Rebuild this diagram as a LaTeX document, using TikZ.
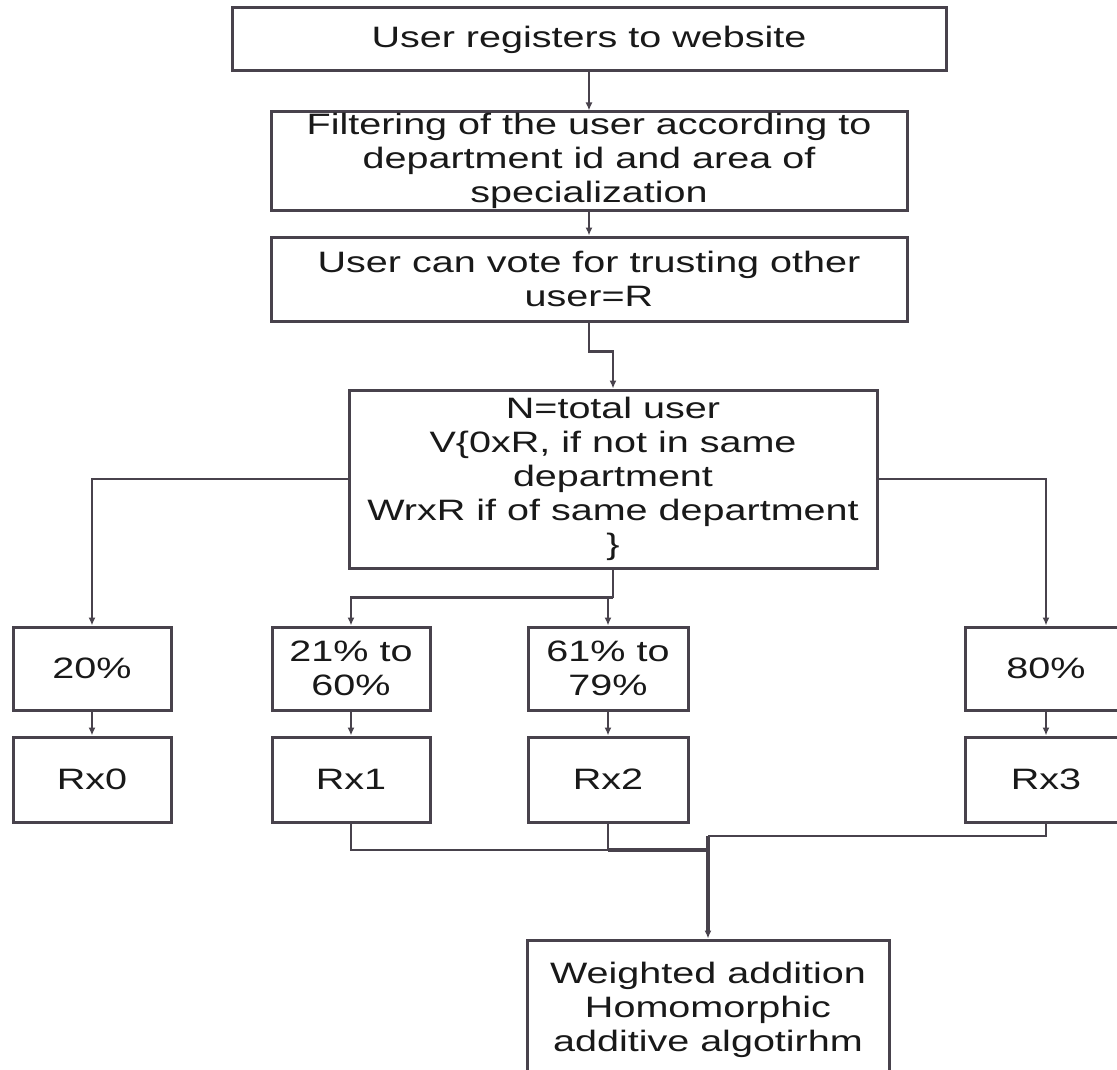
\documentclass[tikz,border=0pt]{standalone}
\usepackage{fontspec}
\setmainfont{Liberation Sans}[FakeStretch=1.34]
\usetikzlibrary{arrows.meta}
\definecolor{ln}{RGB}{72,66,76}
\definecolor{tx}{RGB}{25,25,25}
\begin{document}
\begin{tikzpicture}[x=1pt,y=-1pt,
  box/.style={draw=ln,line width=3pt,fill=white,inner sep=0pt,align=center,text=tx,font=\fontsize{29.5}{34}\selectfont},
  conn/.style={draw=ln,line width=2.4pt},
  arr/.style={conn,-{Latex[length=8pt,width=7pt]}},
  thk/.style={line width=3.4pt}
]
\fill[white] (0,0) rectangle (1117,1070);
\useasboundingbox (0,0) rectangle (1117,1070);

\node[box,minimum width=714pt,minimum height=63pt] (b1) at (589,39.5) {User registers to website};
\node[box,minimum width=636pt,minimum height=98pt] (b2) at (589,161) {Filtering of the user according to\\department id and area of\\specialization};
\node[box,minimum width=636pt,minimum height=84pt] (b3) at (589,279) {User can vote for trusting other\\user=R};
\node[box,minimum width=528pt,minimum height=178pt] (b4) at (613,479) {\rule{0pt}{6pt}N=total user\\V\{0xR, if not in same\\department\\WrxR if of same department\\\}};

\node[box,minimum width=158pt,minimum height=83pt] (p0) at (92,668.5) {20\%};
\node[box,minimum width=158pt,minimum height=83pt] (p1) at (351,668.5) {21\% to\\60\%};
\node[box,minimum width=160pt,minimum height=83pt] (p2) at (608,668.5) {61\% to\\79\%};
\node[box,minimum width=162pt,minimum height=83pt] (p3) at (1046,668.5) {80\%};

\node[box,minimum width=158pt,minimum height=85pt] (r0) at (92,779.5) {Rx0};
\node[box,minimum width=158pt,minimum height=85pt] (r1) at (351,779.5) {Rx1};
\node[box,minimum width=160pt,minimum height=85pt] (r2) at (608,779.5) {Rx2};
\node[box,minimum width=162pt,minimum height=85pt] (r3) at (1046,779.5) {Rx3};

\node[box,minimum width=362pt,minimum height=140pt] (w) at (708,1010) {Weighted addition\\Homomorphic\\additive algotirhm};

\draw[arr] (b1.south) -- (b2.north);
\draw[arr] (b2.south) -- (b3.north);
\draw[arr] (b3.south) -- ++(0,29) -| (b4.north);
\draw[arr] (b4.west) -| (p0.north);
\draw[arr] (b4.east) -| (p3.north);
\draw[conn] (b4.south) -- ++(0,28) coordinate (j1);
\draw[arr] (j1) -| (p1.north);
\draw[arr] (j1 -| p2.north) -- (p2.north);

\draw[arr] (p0.south) -- (r0.north);
\draw[arr] (p1.south) -- (r1.north);
\draw[arr] (p2.south) -- (r2.north);
\draw[arr] (p3.south) -- (r3.north);

\coordinate (j2) at (708,850);
\coordinate (j3) at (708,836);
\draw[conn] (r1.south) |- (j2);
\draw[conn] (r2.south) -- (r2.south |- j2);
\draw[conn,thk] (r2.south |- j2) -- (j2);
\draw[conn] (r3.south) |- (j3);
\draw[arr,thk] (j3) -- (w.north);
\end{tikzpicture}
\end{document}
